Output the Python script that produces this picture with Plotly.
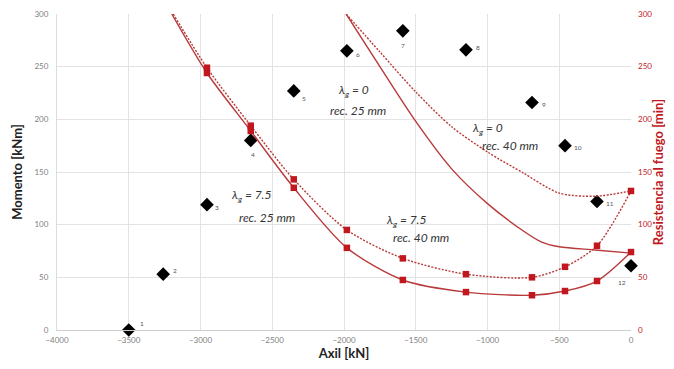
import plotly.graph_objects as go

# Test points (Axil kN, Momento kNm)
pt_labels = ["1", "2", "3", "4", "5", "6", "7", "8", "9", "10", "11", "12"]
pt_axil = [-3500, -3260, -2955, -2650, -2350, -1980, -1590, -1150, -690, -460, -237, 0]
pt_mom = [0, 53, 119, 180, 227, 265, 284, 266, 216, 175, 122, 61]

# Fire resistance curves (min)
mk_axil = [-2955, -2650, -2350, -1980, -1590, -1150, -690, -460, -237, 0]
l75_r25 = [244, 189, 135, 78, 47.5, 36, 33, 37, 46.5, 74]
l75_r40 = [249, 194, 143, 95, 68, 53, 50, 60, 80, 132]
top_axil = -3200
top_val = 300

l0_r25_axil = [-1985, -1750, -1500, -1250, -1000, -750, -630, -500, -250, 0]
l0_r25 = [300, 250, 198, 153, 120, 94, 84, 79, 76, 73]
l0_r40_axil = [-1985, -1750, -1500, -1250, -1000, -750, -500, -250, 0]
l0_r40 = [300, 264, 226, 193, 169, 149, 130, 127, 132]

RED = "#c0181e"
LINE = "#b83a3a"
GRID = "#e3e3e3"
TICK = "#808080"

fig = go.Figure()

def curve(xs, ys, dash):
    fig.add_trace(go.Scatter(x=xs, y=ys, mode="lines", yaxis="y2",
                             line=dict(color=LINE, width=1.4, dash=dash, shape="spline", smoothing=0.8),
                             showlegend=False, hoverinfo="skip", cliponaxis=True))

curve([top_axil] + mk_axil, [top_val] + l75_r25, "solid")
curve([top_axil + 10] + mk_axil, [top_val] + l75_r40, "2px,1.5px")
curve(l0_r25_axil, l0_r25, "solid")
curve(l0_r40_axil, l0_r40, "2px,1.5px")

for ys in (l75_r25, l75_r40):
    fig.add_trace(go.Scatter(x=mk_axil, y=ys, mode="markers", yaxis="y2",
                             marker=dict(symbol="square", size=6.5, color=RED),
                             showlegend=False, cliponaxis=False))

fig.add_trace(go.Scatter(x=pt_axil, y=pt_mom, mode="markers",
                         marker=dict(symbol="diamond", size=10.5, color="black"),
                         showlegend=False, cliponaxis=False))

# point labels
offs = {"1": (13, 7), "2": (12, 4), "3": (10, -3), "4": (2, -14), "5": (10, -8),
        "6": (11, -4), "7": (0, -15), "8": (12, 2), "9": (12, -2), "10": (13, -2),
        "11": (13, -2), "12": (-9, -17)}
for lab, x, y in zip(pt_labels, pt_axil, pt_mom):
    dx, dy = offs[lab]
    fig.add_annotation(x=x, y=y, text=lab, showarrow=False, xshift=dx, yshift=dy,
                       font=dict(size=6.5, color="#555", family="Lato"))

# curve annotations
notes = [
    (-1935, 227, "<i>λ<sub>g</sub> = 0</i>"),
    (-1900, 208, "<i>rec. 25 mm</i>"),
    (-1000, 191, "<i>λ<sub>g</sub> = 0</i>"),
    (-840, 175, "<i>rec. 40 mm</i>"),
    (-2645, 128, "<i>λ<sub>g</sub> = 7.5</i>"),
    (-2540, 107, "<i>rec. 25 mm</i>"),
    (-1570, 104, "<i>λ<sub>g</sub> = 7.5</i>"),
    (-1460, 88, "<i>rec. 40 mm</i>"),
]
for x, y, t in notes:
    fig.add_annotation(x=x, y=y, text=t, showarrow=False,
                       font=dict(size=12, color="#333", family="Lato"))

fig.update_layout(
    width=658, height=353,
    margin=dict(l=49, r=35, t=6, b=31),
    plot_bgcolor="white", paper_bgcolor="white",
    font=dict(family="Lato", color=TICK),
    xaxis=dict(range=[-4000, 0], dtick=500, showgrid=True, gridcolor=GRID, gridwidth=1,
               zeroline=False, showline=True, linecolor="#cfcfcf", ticks="", automargin=False,
               tickfont=dict(size=8, color=TICK), ticklabelstandoff=2,
               title=dict(text="<b>Axil [kN]</b>", font=dict(size=13, color="#222", family="Lato"), standoff=6)),
    yaxis=dict(range=[0, 300], dtick=50, showgrid=True, gridcolor=GRID, gridwidth=1,
               zeroline=False, showline=True, linecolor="#dcdcdc", ticks="", automargin=False,
               tickfont=dict(size=8, color=TICK), ticklabelstandoff=6,
               title=dict(text="<b>Momento [kNm]</b>", font=dict(size=13, color="#222", family="Lato"), standoff=8)),
    yaxis2=dict(range=[0, 300], dtick=50, overlaying="y", side="right", showgrid=False,
                zeroline=False, showline=False, ticks="", automargin=False,
                tickfont=dict(size=8, color=RED), ticklabelstandoff=6,
                title=dict(text="<b>Resistencia al fuego [min]</b>", font=dict(size=13, color=RED, family="Lato"), standoff=4)),
)

fig.write_html("out.html")
